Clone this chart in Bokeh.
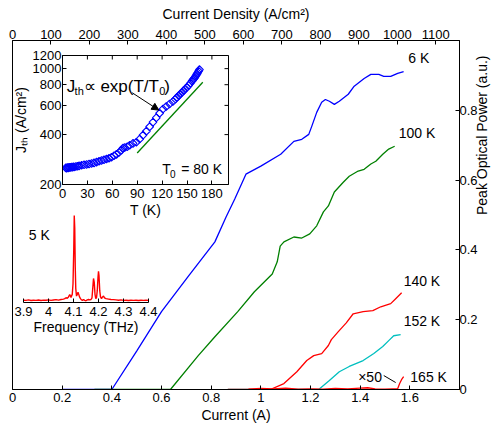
import math
from bokeh.plotting import figure
from bokeh.models import (Range1d, LinearAxis, FixedTicker, PrintfTickFormatter,
                          Label, Arrow, NormalHead)
from bokeh.layouts import column
from bokeh.embed import file_html
from bokeh.resources import INLINE

FONT = "Liberation Sans"

# ---------------- main data: current (A) vs peak optical power (a.u.) ----------------
I_6K = [0.20, 0.40, 0.50, 0.60, 0.71, 0.815, 0.86, 0.895, 0.94, 1.00, 1.08, 1.133, 1.165,
        1.193, 1.205, 1.225, 1.245, 1.26, 1.276, 1.296, 1.316, 1.352, 1.376, 1.416, 1.443,
        1.475, 1.495, 1.523, 1.551, 1.575]
P_6K = [0.0, 0.0, 0.110, 0.223, 0.326, 0.423, 0.494, 0.546, 0.617, 0.640, 0.674, 0.711, 0.717,
        0.731, 0.754, 0.794, 0.823, 0.831, 0.826, 0.817, 0.826, 0.846, 0.869, 0.891, 0.903,
        0.903, 0.897, 0.897, 0.906, 0.911]

I_100K = [0.33, 0.636, 0.748, 0.815, 0.907, 0.974, 1.046, 1.066, 1.078, 1.093, 1.133, 1.165,
          1.197, 1.225, 1.252, 1.272, 1.296, 1.332, 1.356, 1.392, 1.416, 1.443, 1.463, 1.491,
          1.515, 1.539]
P_100K = [0.0, 0.0, 0.097, 0.151, 0.223, 0.280, 0.331, 0.366, 0.411, 0.423, 0.437, 0.434,
          0.446, 0.469, 0.509, 0.526, 0.566, 0.594, 0.611, 0.626, 0.631, 0.646, 0.654, 0.674,
          0.689, 0.697]

I_140K = [0.867, 1.038, 1.093, 1.145, 1.185, 1.213, 1.245, 1.272, 1.284, 1.312, 1.344, 1.372,
          1.412, 1.451, 1.483, 1.523, 1.543, 1.567]
P_140K = [0.0, 0.0, 0.017, 0.051, 0.083, 0.097, 0.103, 0.126, 0.143, 0.166, 0.191, 0.217,
          0.223, 0.226, 0.237, 0.246, 0.260, 0.277]

I_152K = [0.867, 1.233, 1.276, 1.316, 1.356, 1.412, 1.455, 1.491, 1.515, 1.535, 1.563]
P_152K = [0.0, 0.0, 0.026, 0.051, 0.066, 0.083, 0.103, 0.123, 0.140, 0.154, 0.157]

I_165K = [0.95, 1.00, 1.05, 1.10, 1.15, 1.20, 1.25, 1.30, 1.35, 1.40, 1.43, 1.46, 1.50, 1.53,
          1.551, 1.559, 1.568, 1.575]
P_165K = [0.001, 0.003, 0.002, 0.004, 0.001, 0.002, 0.001, 0.003, 0.002, 0.004, 0.005, 0.002,
          0.001, 0.002, 0.002, 0.017, 0.030, 0.037]

X_TICKS = [0, 0.2, 0.4, 0.6, 0.8, 1, 1.2, 1.4, 1.6]
Y_TICKS = [0, 0.2, 0.4, 0.6, 0.8]
JD_TICKS = [0, 100, 200, 300, 400, 500, 600, 700, 800, 900, 1000, 1100]
I_MAX = 1.8
JD_MAX = 1161.5

# ---------------- inset 1: threshold current density vs temperature ----------------
T_K = [4, 5, 6, 7, 8, 9, 10, 11, 12, 13, 14, 16, 18, 20, 23, 26, 29, 32, 35, 38, 41, 44, 47,
       50, 53, 56, 59, 62, 65, 68, 71, 73, 75, 78, 81, 85, 89, 93, 97, 101, 105, 109, 113, 117,
       121, 125, 129, 133, 136, 138, 140, 142, 144, 146, 148, 150, 152, 154, 156, 157, 158, 159,
       160, 161, 162, 163, 164, 165]
J_TH = [252, 251, 253, 252, 254, 253, 254, 255, 254, 256, 255, 257, 258, 259, 261, 263, 264,
        266, 268, 270, 273, 276, 279, 282, 285, 288, 292, 298, 304, 312, 322, 332, 334, 338,
        345, 354, 360, 376, 397, 419, 446, 475, 505, 538, 570, 591, 612, 633, 655, 671, 687,
        703, 720, 737, 754, 772, 792, 816, 840, 853, 866, 878, 895, 910, 928, 945, 965, 986]
FIT_T = [90, 169]
FIT_J = [310, 828]
T_TICKS = [0, 30, 60, 90, 120, 150, 180]
J_TICKS = [200, 400, 600, 800, 1000, 1200]
T_MAX = 200
J_MIN, J_MAX = 200, 1200

# ---------------- inset 2: 5 K emission spectrum ----------------
FREQ = [3.90, 3.91, 3.92, 3.93, 3.94, 3.95, 3.96, 3.97, 3.98, 3.99, 4.00, 4.01, 4.02, 4.03,
        4.04, 4.05, 4.06, 4.065, 4.07, 4.075, 4.08, 4.085, 4.09, 4.095, 4.098, 4.101, 4.103,
        4.105, 4.107, 4.109, 4.112, 4.115, 4.118, 4.121, 4.124, 4.128, 4.132, 4.136, 4.14,
        4.145, 4.15, 4.155, 4.16, 4.165, 4.17, 4.174, 4.177, 4.18, 4.183, 4.186, 4.189, 4.192,
        4.195, 4.198, 4.20, 4.202, 4.205, 4.208, 4.212, 4.216, 4.22, 4.224, 4.23, 4.24, 4.25,
        4.26, 4.27, 4.28, 4.29, 4.30, 4.31, 4.32, 4.33, 4.34, 4.35, 4.36, 4.37, 4.38, 4.39, 4.40]
INTENSITY = [0.012, 0.010, 0.015, 0.008, 0.012, 0.010, 0.014, 0.009, 0.013, 0.011, 0.016,
             0.010, 0.014, 0.018, 0.013, 0.020, 0.025, 0.030, 0.040, 0.035, 0.050, 0.078,
             0.045, 0.080, 0.20, 0.60, 1.0, 0.85, 0.40, 0.15, 0.06, 0.08, 0.105, 0.08, 0.05,
             0.03, 0.015, 0.010, 0.020, 0.010, 0.005, 0.015, 0.020, 0.015, 0.020, 0.040, 0.15,
             0.265, 0.22, 0.08, 0.03, 0.04, 0.12, 0.28, 0.35, 0.30, 0.12, 0.05, 0.03, 0.05,
             0.06, 0.04, 0.03, 0.025, 0.020, 0.018, 0.015, 0.012, 0.015, 0.010, 0.012, 0.009,
             0.011, 0.010, 0.012, 0.009, 0.011, 0.010, 0.012, 0.010]
F_TICKS = [3.9, 4, 4.1, 4.2, 4.3, 4.4]


def style_axis(ax, label_size="13px", title_size="14px"):
    ax.axis_line_color = "black"
    ax.major_tick_line_color = "black"
    ax.major_tick_in = 4
    ax.major_tick_out = 0
    ax.minor_tick_line_color = None
    ax.major_label_text_font = FONT
    ax.major_label_text_font_size = label_size
    ax.major_label_text_color = "black"
    ax.major_label_standoff = 2
    ax.axis_label_text_font = FONT
    ax.axis_label_text_font_size = title_size
    ax.axis_label_text_font_style = "normal"
    ax.axis_label_text_color = "black"
    ax.axis_label_standoff = 0


def lab(fig, x, y, text, size="14px", **kw):
    opts = dict(text_font=FONT, text_font_size=size, text_color="black",
                text_baseline="middle", text_align="left")
    opts.update(kw)
    fig.add_layout(Label(x=x, y=y, text=text, **opts))


# ================= main figure =================
p = figure(width=500, height=425, x_range=Range1d(0, I_MAX), y_range=Range1d(0, 1.0),
           y_axis_location="right", output_backend="svg", toolbar_location=None,
           min_border_left=12, min_border_right=35, min_border_top=40, min_border_bottom=34,
           frame_align=False)
p.extra_x_ranges = {"jd": Range1d(0, JD_MAX)}
p.grid.visible = False
p.outline_line_color = "black"
p.outline_line_alpha = 1.0

p.xaxis.ticker = FixedTicker(ticks=X_TICKS)
p.xaxis.formatter = PrintfTickFormatter(format="%g")
p.xaxis.axis_label = "Current (A)"
p.yaxis.ticker = FixedTicker(ticks=Y_TICKS)
p.yaxis.formatter = PrintfTickFormatter(format="%g")
p.yaxis.axis_label = "Peak Optical Power (a.u.)"
for ax in p.xaxis + p.yaxis:
    style_axis(ax)
p.xaxis.major_label_standoff = 3
p.xaxis.axis_label_standoff = 2
p.yaxis.major_label_standoff = 0
p.yaxis.axis_label_standoff = 1
if "axis_label_orientation" in type(p.yaxis[0]).properties():
    p.yaxis.axis_label_orientation = math.pi / 2

top = LinearAxis(x_range_name="jd", ticker=FixedTicker(ticks=JD_TICKS),
                 axis_label="Current Density (A/cm²)")
style_axis(top)
top.axis_label_standoff = 5
p.add_layout(top, "above")

p.line(I_6K, P_6K, line_color="#0000ff", line_width=1.3)
p.line(I_100K, P_100K, line_color="#008000", line_width=1.3)
p.line(I_152K, P_152K, line_color="#00bfbf", line_width=1.3)
p.line(I_140K, P_140K, line_color="#ff0000", line_width=1.3)
p.line(I_165K, P_165K, line_color="#ff0000", line_width=1.3)
p.line([1.495, 1.543], [0.040, 0.020], line_color="black", line_width=1)

lab(p, 1.594, 0.951, "6 K")
lab(p, 1.555, 0.734, "100 K")
lab(p, 1.575, 0.311, "140 K")
lab(p, 1.575, 0.197, "152 K")
lab(p, 1.602, 0.037, "165  K")
lab(p, 1.392, 0.037, "×50")

# ================= inset 1 =================
ins = figure(width=225, height=173, x_range=Range1d(0, T_MAX), y_range=Range1d(J_MIN, J_MAX),
             y_axis_type="log", output_backend="svg", toolbar_location=None,
             min_border_left=52, min_border_right=6, min_border_top=8, min_border_bottom=36,
             margin=(47 - 425, 0, 0, 9), frame_align=False)
ins.grid.visible = False
ins.outline_line_color = "black"
ins.background_fill_color = "white"
ins.border_fill_alpha = 0
ins.xaxis.ticker = FixedTicker(ticks=T_TICKS)
ins.xaxis.axis_label = "T (K)"
ins.yaxis.ticker = FixedTicker(ticks=J_TICKS)
ins.yaxis.formatter = PrintfTickFormatter(format="%d")
ins.yaxis.axis_label = "Jₜₕ (A/cm²)"
for ax in ins.xaxis + ins.yaxis:
    style_axis(ax)
ins.xaxis.major_label_standoff = 4
ins.xaxis.axis_label_standoff = 1
ins.yaxis.axis_label_standoff = 1
ins.yaxis.major_label_standoff = 1
# mirrored inward ticks on top and right edges (half of each dash is clipped by the frame)
ins.scatter(T_TICKS, [J_MAX] * len(T_TICKS), marker="dash", angle=math.pi / 2, size=8,
            line_color="black", line_width=1)
ins.scatter([T_MAX] * len(J_TICKS), J_TICKS, marker="dash", size=8,
            line_color="black", line_width=1)

ins.line(FIT_T, FIT_J, line_color="#008000", line_width=1.3)
ins.scatter(T_K, J_TH, marker="square", angle=math.pi / 4, size=5.5, fill_color=None,
            line_color="#0000ff", line_width=1.1)
ins.add_layout(Arrow(x_start=84, y_start=715, x_end=116, y_end=562, line_width=1,
                     line_color="black",
                     end=NormalHead(size=7, fill_color="black", line_color="black")))

base = dict(text_baseline="alphabetic")
lab(ins, 5, 778, "J", size="17px", **base)
lab(ins, 14.6, 728, "th", size="11px", **base)
lab(ins, 25.5, 778, "∝ exp(T/T", size="17px", **base)
lab(ins, 116.5, 728, "0", size="11px", **base)
lab(ins, 122.5, 778, ")", size="17px", **base)
lab(ins, 120.3, 249, "T", size="14px", **base)
lab(ins, 129.6, 232, "0", size="10px", **base)
lab(ins, 143, 249, "= 80 K", size="14px", **base)

# ================= inset 2 =================
spec = figure(width=148, height=129, x_range=Range1d(3.9, 4.4), y_range=Range1d(-0.015, 1.035),
              y_axis_location=None, output_backend="svg", toolbar_location=None,
              min_border_left=11, min_border_right=12, min_border_top=4, min_border_bottom=35,
              margin=(208 - 220, 0, 88, 12), frame_align=False)
spec.grid.visible = False
spec.outline_line_color = None
spec.background_fill_alpha = 0
spec.border_fill_alpha = 0
spec.xaxis.ticker = FixedTicker(ticks=F_TICKS)
spec.xaxis.formatter = PrintfTickFormatter(format="%g")
spec.xaxis.axis_label = "Frequency (THz)"
for ax in spec.xaxis:
    style_axis(ax)
spec.xaxis.major_label_standoff = 4
spec.line(FREQ, INTENSITY, line_color="#ff0000", line_width=1.4)
lab(spec, 3.921, 0.778, "5 K")

layout = column(p, ins, spec)
open("out.html", "w").write(file_html(layout, INLINE))
